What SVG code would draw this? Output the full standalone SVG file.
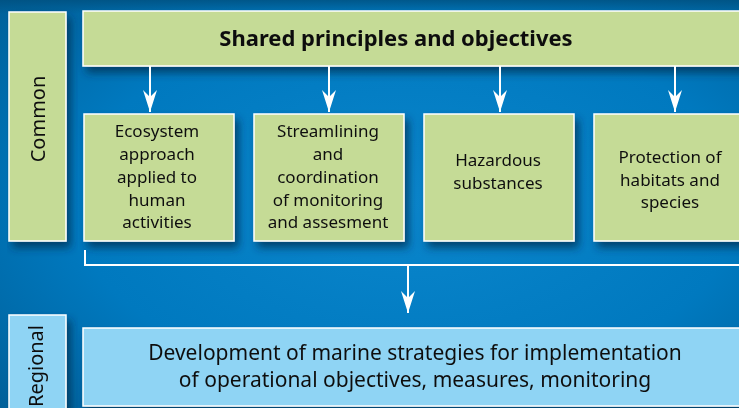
<svg xmlns="http://www.w3.org/2000/svg" width="739" height="408" viewBox="0 0 739 408">
<defs>
<radialGradient id="bg" cx="0.55" cy="0.5" r="0.75">
<stop offset="0" stop-color="#0a86cc"/>
<stop offset="0.6" stop-color="#0079bf"/>
<stop offset="1" stop-color="#005f98"/>
</radialGradient>
<linearGradient id="band" x1="0" y1="0" x2="0" y2="1">
<stop offset="0" stop-color="#00507f" stop-opacity="0.8"/>
<stop offset="1" stop-color="#00507f" stop-opacity="0"/>
</linearGradient>
<filter id="sh" x="-10%" y="-10%" width="130%" height="140%">
<feGaussianBlur in="SourceAlpha" stdDeviation="4"/>
<feOffset dx="4" dy="6" result="b"/>
<feFlood flood-color="#002a4a" flood-opacity="0.7"/>
<feComposite in2="b" operator="in"/>
<feMerge><feMergeNode/><feMergeNode in="SourceGraphic"/></feMerge>
</filter>
<marker id="ah" viewBox="0 0 22 14" refX="22" refY="7" markerWidth="22" markerHeight="14" markerUnits="userSpaceOnUse" orient="auto">
<path d="M0,0 L7,7 L0,14 L22,7 Z" fill="#ffffff"/>
</marker>
</defs>
<style>
.g{fill:#c5db96;stroke:#ffffff;stroke-width:1.5}
.b{fill:#8fd4f4;stroke:#ffffff;stroke-width:1.5}
.t{font-family:"Noto Sans","Open Sans","DejaVu Sans",sans-serif;fill:#111111;text-anchor:middle}
.s{font-size:17px}
.c{stroke:#ffffff;stroke-width:2;fill:none}
</style>
<rect x="0" y="0" width="739" height="408" fill="url(#bg)"/>
<rect x="0" y="0" width="739" height="14" fill="url(#band)"/>
<g id="common" filter="url(#sh)">
<rect class="g" x="9" y="12" width="57" height="229"/>
<text class="t" font-size="20" transform="translate(45,119) rotate(-90)">Common</text>
</g>
<g id="shared" filter="url(#sh)">
<rect class="g" x="83" y="11" width="670" height="55"/>
<text class="t" font-size="22" font-weight="bold" x="396" y="46">Shared principles and objectives</text>
</g>
<g id="ecosystem" filter="url(#sh)">
<rect class="g" x="84" y="114" width="150" height="127"/>
<text class="t s" x="157" y="137">Ecosystem</text>
<text class="t s" x="157" y="160">approach</text>
<text class="t s" x="157" y="183">applied to</text>
<text class="t s" x="157" y="206">human</text>
<text class="t s" x="157" y="228">activities</text>
</g>
<g id="streamlining" filter="url(#sh)">
<rect class="g" x="254" y="114" width="150" height="127"/>
<text class="t s" x="328" y="137">Streamlining</text>
<text class="t s" x="328" y="160">and</text>
<text class="t s" x="328" y="183">coordination</text>
<text class="t s" x="328" y="206">of monitoring</text>
<text class="t s" x="328" y="228">and assesment</text>
</g>
<g id="hazardous" filter="url(#sh)">
<rect class="g" x="424" y="114" width="150" height="127"/>
<text class="t s" x="498" y="166">Hazardous</text>
<text class="t s" x="498" y="189">substances</text>
</g>
<g id="protection" filter="url(#sh)">
<rect class="g" x="594" y="114" width="160" height="127"/>
<text class="t s" x="670" y="163">Protection of</text>
<text class="t s" x="670" y="186">habitats and</text>
<text class="t s" x="670" y="208">species</text>
</g>
<g id="regional" filter="url(#sh)">
<rect class="b" x="9" y="315" width="57" height="110"/>
<text class="t" font-size="20" style="text-anchor:end" transform="translate(43,325) rotate(-90)">Regional</text>
</g>
<g id="development" filter="url(#sh)">
<rect class="b" x="83" y="328" width="670" height="78"/>
<text class="t" font-size="21" x="415" y="360">Development of marine strategies for implementation</text>
<text class="t" font-size="21" x="415" y="387">of operational objectives, measures, monitoring</text>
</g>
<g id="connectors">
<line class="c" x1="150" y1="66" x2="150" y2="112" marker-end="url(#ah)"/>
<line class="c" x1="329" y1="66" x2="329" y2="112" marker-end="url(#ah)"/>
<line class="c" x1="500" y1="66" x2="500" y2="112" marker-end="url(#ah)"/>
<line class="c" x1="675" y1="66" x2="675" y2="112" marker-end="url(#ah)"/>
<polyline class="c" points="85,250 85,265 739,265"/>
<line class="c" x1="408" y1="265" x2="408" y2="313" marker-end="url(#ah)"/>
</g>
</svg>
